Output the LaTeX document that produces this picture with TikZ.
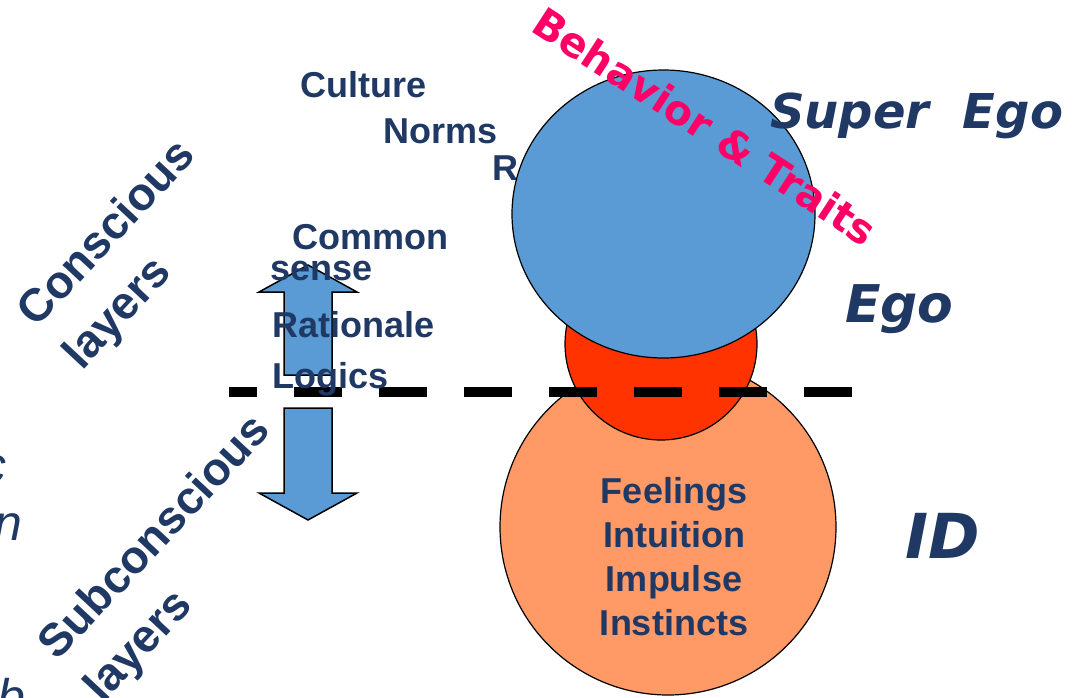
\documentclass[tikz,border=0pt]{standalone}
\usepackage{fontspec}
\setmainfont{Liberation Sans}
\newfontfamily\handfont{DejaVu Sans}
\usetikzlibrary{shapes.geometric}
\definecolor{navy}{RGB}{31,56,100}
\definecolor{skyblue}{RGB}{91,155,213}
\definecolor{egored}{RGB}{255,51,0}
\definecolor{idorange}{RGB}{255,153,102}
\definecolor{traitpink}{RGB}{255,0,102}
\tikzset{
  word/.style={inner sep=0pt,anchor=base west,text=navy,font=\fontsize{36}{40}\selectfont\bfseries},
  bigword/.style={inner sep=0pt,anchor=base west,text=navy,font=\handfont\fontsize{#1}{60}\selectfont\bfseries\itshape},
  layer/.style={inner sep=0pt,align=left,rotate=47,text=navy,font=\fontsize{46}{62}\selectfont\bfseries},
  cutword/.style={inner sep=0pt,anchor=base east,text=navy,font=\fontsize{50}{60}\selectfont\itshape},
  blob/.style={draw=black,line width=1.2pt,inner sep=0pt},
  bigarrow/.style={draw=black,line width=1.5pt,fill=skyblue,line join=miter}
}
\begin{document}
\begin{tikzpicture}[x=1pt,y=-1pt]
\useasboundingbox (0,0) rectangle (1081,697);
% words cut by the left edge
\node[cutword] (cutc) at (7,482) {c};
\node[cutword] (cutn) at (23,540) {n};
\node[cutword] (cutb) at (26,714) {b};

\node[layer] (conscious) at (131,256) {Conscious\\layers};
\node[layer] (subconscious) at (179,560) {Subconscious\\layers};

% up and down arrows
\draw[bigarrow] (284,375) -- (284,292) -- (259,292) -- (308,265) -- (357,292) -- (332,292) -- (332,375) -- cycle;
\draw[bigarrow] (284,408) -- (332,408) -- (332,493) -- (357,493) -- (308,520) -- (259,493) -- (284,493) -- cycle;

% the three layers
\node[blob,circle,fill=idorange,minimum size=336pt] (id) at (668,527) {};
\node[blob,circle,fill=egored,minimum size=192pt] (ego) at (661,344) {};
\node[word] (rword) at (492,180) {R};
\node[blob,ellipse,fill=skyblue,minimum width=303pt,minimum height=288pt] (superego) at (663.5,214) {};

\coordinate (lineL) at (229,392);
\coordinate (lineR) at (852,392);
\draw[line width=10pt,dash pattern=on 48pt off 37pt,dash phase=20pt] (lineL) -- (lineR);

\node[word] (culture) at (300,97) {Culture};
\node[word] (norms) at (383,143) {Norms};
\node[word] (common) at (292,249) {Common};
\node[word] (sense) at (270,280) {sense};
\node[word] (rationale) at (272,337) {Rationale};
\node[word] (logics) at (272,388) {Logics};

\foreach \w [count=\i] in {Feelings,Intuition,Impulse,Instincts}
  \node[word,anchor=base] (drive\i) at (674,{503+44*(\i-1)}) {\w};

\node[inner sep=0pt,rotate=-33,text=traitpink,font=\handfont\fontsize{41}{48}\selectfont\bfseries] (traits) at (705,126) {Behavior \& Traits};

\node[bigword=48] (superlbl) at (770,128) {Super~~Ego};
\node[bigword=52] (egolbl) at (845,322) {Ego};
\node[bigword=62] (idlbl) at (905,558) {ID};
\end{tikzpicture}
\end{document}
